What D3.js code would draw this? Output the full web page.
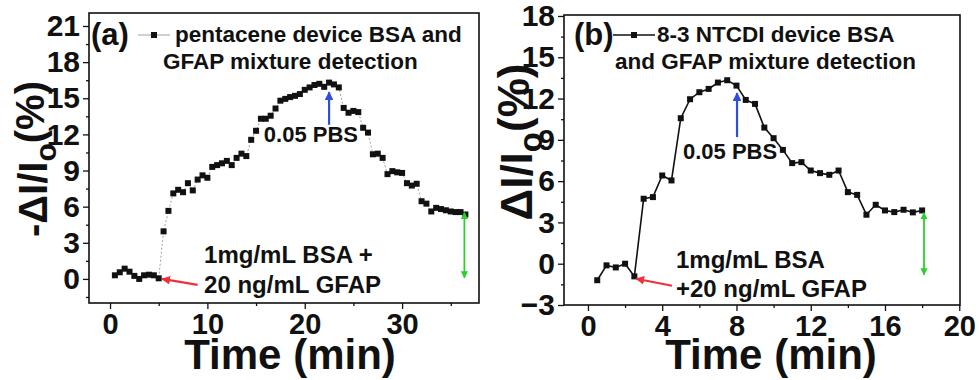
<!DOCTYPE html>
<html>
<head>
<meta charset="utf-8">
<script src="https://cdn.jsdelivr.net/npm/d3@7"></script>
<style>
  body { margin: 0; background: #fff; }
  svg text { font-family: "Liberation Sans", Arial, sans-serif; font-weight: bold; fill: #111; }
</style>
</head>
<body>
<div id="chart"></div>
<script>
// panel (a): pentacene device
const timeA = [0.5,1,1.5,2,2.5,3,3.5,4,4.5,5,
  5.5,6,6.5,7,7.5,8,8.5,9,9.5,10,10.5,11,11.5,12,12.5,13,13.5,14,14.5,15,
  15.5,16,16.5,17,17.5,18,18.5,19,19.5,20,20.5,21,21.5,22,22.5,23,23.5,24,24.5,25,
  25.5,26,26.5,27,27.5,28,28.5,29,29.5,30,30.5,31,31.5,32,32.5,33,33.5,34,34.5,35,
  35.5,36,36.5]
const valA = [0.3,0.55,0.85,0.6,0.25,0.0,0.3,0.35,0.3,0.05,
  3.95,5.65,7.1,7.4,7.2,7.95,7.35,8.25,8.6,8.4,9.3,9.45,9.6,9.8,9.45,10.05,10.4,10.2,11.55,12.3,
  13.3,13.3,13.55,14.15,14.8,14.95,15.1,15.2,15.35,15.7,15.9,16.1,16.2,15.95,16.3,16.15,15.9,14.2,13.8,13.95,
  13.85,12.55,12.15,10.35,10.4,10.05,8.7,8.95,8.85,8.8,7.95,7.75,7.9,6.45,6.25,5.6,5.9,5.8,5.7,5.6,
  5.55,5.55,5.35]

// panel (b): 8-3 NTCDI device
const timeB = [0.5,1,1.5,2,2.5,3,3.5,4,4.5,5,5.5,6,6.5,7,7.5,8,8.5,9,
  9.5,10,10.5,11,11.5,12,12.5,13,13.5,14,14.5,15,15.5,16,16.5,17,17.5,18]
const valB = [-1.2,-0.12,-0.27,0.0,-0.92,4.72,4.84,6.41,6.05,10.57,11.95,12.46,12.7,13.16,13.33,12.94,11.9,11.61,
  9.89,9.12,8.27,7.31,7.38,6.77,6.58,6.46,6.77,5.2,5.0,3.56,4.28,3.87,3.75,3.92,3.73,3.87]

const ticksAy = [0,3,6,9,12,15,18,21]
const ticksAx = [0,10,20,30]
const ticksBy = [-3,0,3,6,9,12,15,18]
const ticksBx = [0,4,8,12,16,20]

const width = 979, height = 380

const svg = d3.select("#chart").append("svg")
  .attr("width", width).attr("height", height)
  .attr("viewBox", [0, 0, width, height])

const defs = svg.append("defs")
const addMarker = (id, color) => {
  defs.append("marker")
    .attr("id", id)
    .attr("viewBox", "0 0 10 10")
    .attr("refX", 9).attr("refY", 5)
    .attr("markerWidth", 4).attr("markerHeight", 4)
    .attr("orient", "auto-start-reverse")
    .append("path").attr("d", "M0,0 L10,5 L0,10 Z").attr("fill", color)
}
addMarker("headBlue", "#2d4fe0")
addMarker("headRed", "#f0303a")
addMarker("headGreen", "#2ccf2c")

const panels = [
  {
    x: d3.scaleLinear().domain([-2.16, 37.9]).range([89, 479]),
    y: d3.scaleLinear().domain([-2, 22.08]).range([303, 13]),
    time: timeA, vals: valA, xt: ticksAx, yt: ticksAy, xminor: 5, yminor: 1.5,
    lineColor: "#9aa3a8", lineDash: "2,2", lineWidth: 1,
    tag: "(a)", tagX: 91, legX1: 138, legX2: 170,
    leg1: "pentacene device BSA and", leg1X: 175,
    leg2: "GFAP mixture detection", leg2X: 163,
    ylabel: ["-ΔI/I", "o", "(%)"], ylabX: 47, ylabY: 159, ylabSize: 40,
    xlabX: 290,
    pbs: [15.8, 11.33], blue: [22.5, 12.8, 15.5],
    note1: ["1mg/mL BSA +", 9.66, 1.33], note2: ["20 ng/mL GFAP", 9.66, -1.17],
    red: [9.0, -0.5, 5.35, 0.0], green: [36.4, 5.5, 0.1]
  },
  {
    x: d3.scaleLinear().domain([-1.29, 20.04]).range([564, 960]),
    y: d3.scaleLinear().domain([-3, 18.07]).range([305, 15]),
    time: timeB, vals: valB, xt: ticksBx, yt: ticksBy, xminor: 2, yminor: 1.5,
    lineColor: "#111", lineDash: null, lineWidth: 1.6,
    tag: "(b)", tagX: 574, legX1: 613, legX2: 655,
    leg1: "8-3 NTCDI device BSA", leg1X: 657,
    leg2: "and GFAP mixture detection", leg2X: 615,
    ylabel: ["ΔI/I", "o", "(%)"], ylabX: 532, ylabY: 142, ylabSize: 44,
    xlabX: 771,
    pbs: [5.12, 7.6], blue: [8.03, 9.2, 12.4],
    note1: ["1mg/mL BSA", 4.74, -0.29], note2: ["+20 ng/mL GFAP", 4.74, -2.4],
    red: [4.53, -1.6, 2.6, -1.09], green: [18.1, 3.7, -0.8]
  }
]

panels.forEach(p => {
  const g = svg.append("g")
  const [x0, x1] = p.x.range(), [y0, y1] = p.y.range()

  // outward ticks, minor ones between the labelled ones
  const minorX = d3.range(Math.ceil(p.x.domain()[0] / p.xminor) * p.xminor, p.x.domain()[1], p.xminor)
    .filter(v => !p.xt.includes(v))
  const minorY = d3.range(Math.ceil(p.y.domain()[0] / p.yminor) * p.yminor, p.y.domain()[1], p.yminor)
    .filter(v => !p.yt.some(t => Math.abs(t - v) < 1e-6))

  const xAxis = g.append("g").attr("transform", `translate(0,${y0})`)
    .call(d3.axisBottom(p.x).tickValues(p.xt).tickSize(6).tickPadding(6).tickFormat(d3.format("d")))
  const yAxis = g.append("g").attr("transform", `translate(${x0},0)`)
    .call(d3.axisLeft(p.y).tickValues(p.yt).tickSize(6).tickPadding(3).tickFormat(d3.format("d")))
  g.append("g").attr("transform", `translate(0,${y0})`)
    .call(d3.axisBottom(p.x).tickValues(minorX).tickSize(3).tickFormat(""))
  g.append("g").attr("transform", `translate(${x0},0)`)
    .call(d3.axisLeft(p.y).tickValues(minorY).tickSize(3).tickFormat(""))
  g.selectAll(".domain").remove()
  g.selectAll(".tick line").attr("stroke", "#111").attr("stroke-width", 1.3)
  xAxis.selectAll("text").style("font-size", "29px").attr("dy", "0.66em")
  yAxis.selectAll("text").style("font-size", "30px")

  // frame
  g.append("rect").attr("x", x0).attr("y", y1).attr("width", x1 - x0).attr("height", y0 - y1)
    .attr("fill", "none").attr("stroke", "#111").attr("stroke-width", 1.6)

  // series
  const pts = p.time.map((t, i) => [t, p.vals[i]])
  g.append("path").datum(pts)
    .attr("fill", "none").attr("stroke", p.lineColor).attr("stroke-width", p.lineWidth)
    .attr("stroke-dasharray", p.lineDash)
    .attr("d", d3.line().x(d => p.x(d[0])).y(d => p.y(d[1])))
  g.selectAll("rect.pt").data(pts).join("rect").attr("class", "pt")
    .attr("x", d => p.x(d[0]) - 3).attr("y", d => p.y(d[1]) - 3)
    .attr("width", 6).attr("height", 6).attr("fill", "#111")

  // tag + legend
  g.append("text").attr("x", p.tagX).attr("y", 45).style("font-size", "31px").text(p.tag)
  g.append("line").attr("x1", p.legX1).attr("x2", p.legX2).attr("y1", 35).attr("y2", 35)
    .attr("stroke", p.lineColor).attr("stroke-width", p.lineWidth)
  g.append("rect").attr("x", (p.legX1 + p.legX2) / 2 - 3).attr("y", 32)
    .attr("width", 6).attr("height", 6).attr("fill", "#111")
  g.append("text").attr("x", p.leg1X).attr("y", 42).style("font-size", "22.5px").text(p.leg1)
  g.append("text").attr("x", p.leg2X).attr("y", 69).style("font-size", "22.5px").text(p.leg2)

  // y label
  const yl = g.append("text").attr("transform", `translate(${p.ylabX},${p.ylabY}) rotate(-90)`)
    .attr("text-anchor", "middle").style("font-size", p.ylabSize + "px")
  yl.append("tspan").text(p.ylabel[0])
  yl.append("tspan").attr("dy", "0.3em").style("font-size", (p.ylabSize * 0.75) + "px").text(p.ylabel[1])
  yl.append("tspan").attr("dy", "-0.3em").text(p.ylabel[2])

  // x label
  g.append("text").attr("x", p.xlabX).attr("y", 369)
    .attr("text-anchor", "middle").style("font-size", "42px").text("Time (min)")

  // annotations
  g.append("text").attr("x", p.x(p.pbs[0])).attr("y", p.y(p.pbs[1])).style("font-size", "22px").text("0.05 PBS")
  g.append("line").attr("x1", p.x(p.blue[0])).attr("x2", p.x(p.blue[0]))
    .attr("y1", p.y(p.blue[1])).attr("y2", p.y(p.blue[2]))
    .attr("stroke", "#2d4fe0").attr("stroke-width", 2.2).attr("marker-end", "url(#headBlue)")
  g.append("text").attr("x", p.x(p.note1[1])).attr("y", p.y(p.note1[2])).style("font-size", "24px").text(p.note1[0])
  g.append("text").attr("x", p.x(p.note2[1])).attr("y", p.y(p.note2[2])).style("font-size", "24px").text(p.note2[0])
  g.append("line").attr("x1", p.x(p.red[0])).attr("y1", p.y(p.red[1]))
    .attr("x2", p.x(p.red[2])).attr("y2", p.y(p.red[3]))
    .attr("stroke", "#f0303a").attr("stroke-width", 2.2).attr("marker-end", "url(#headRed)")
  g.append("line").attr("x1", p.x(p.green[0])).attr("x2", p.x(p.green[0]))
    .attr("y1", p.y(p.green[1])).attr("y2", p.y(p.green[2]))
    .attr("stroke", "#2ccf2c").attr("stroke-width", 1.8)
    .attr("marker-start", "url(#headGreen)").attr("marker-end", "url(#headGreen)")
})
</script>
</body>
</html>
